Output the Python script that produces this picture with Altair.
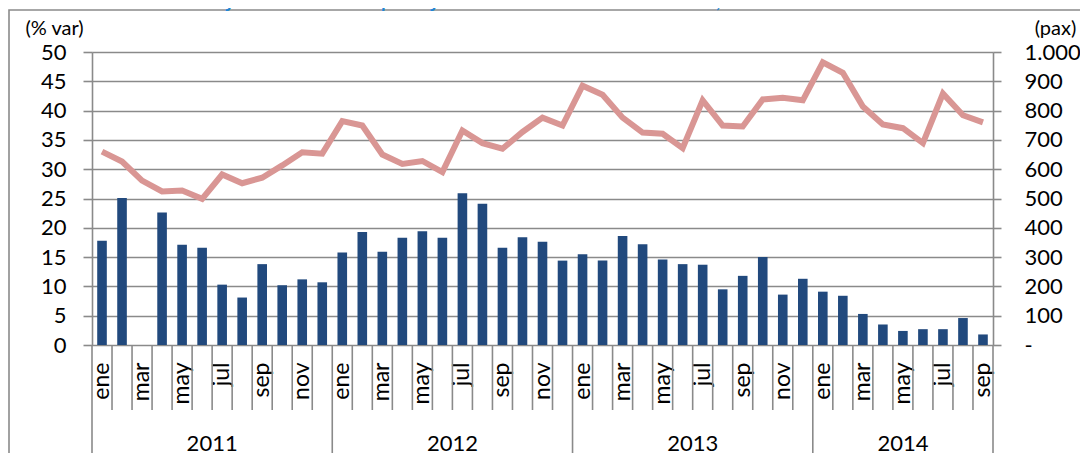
import altair as alt
import pandas as pd

months = ["ene", "feb", "mar", "abr", "may", "jun", "jul", "ago", "sep", "oct", "nov", "dic"]
years = [2011, 2012, 2013, 2014]

# % var (left axis, bars)
pct_2011 = [17.8, 25.1, None, 22.6, 17.1, 16.6, 10.3, 8.1, 13.8, 10.2, 11.2, 10.7]
pct_2012 = [15.8, 19.3, 15.9, 18.3, 19.4, 18.3, 25.9, 24.1, 16.6, 18.4, 17.6, 14.4]
pct_2013 = [15.5, 14.4, 18.6, 17.2, 14.6, 13.8, 13.7, 9.5, 11.8, 15.0, 8.6, 11.3]
pct_2014 = [9.1, 8.4, 5.3, 3.5, 2.4, 2.7, 2.7, 4.6, 1.8]

# pax (right axis, line)
pax_2011 = [660, 626, 561, 524, 527, 499, 582, 552, 571, 613, 658, 653]
pax_2012 = [764, 749, 650, 618, 628, 590, 732, 689, 670, 727, 776, 749]
pax_2013 = [885, 854, 776, 725, 721, 672, 835, 749, 746, 838, 844, 835]
pax_2014 = [965, 929, 814, 753, 740, 689, 858, 784, 760]

left_ticks = [0, 5, 10, 15, 20, 25, 30, 35, 40, 45, 50]
right_ticks = [0, 100, 200, 300, 400, 500, 600, 700, 800, 900, 1000]

title_text = "Flujo mensual de pasajeros en vuelos domésticos, serie 2011-2014"

pct_all = pct_2011 + pct_2012 + pct_2013 + pct_2014
pax_all = pax_2011 + pax_2012 + pax_2013 + pax_2014
rows = []
for i, (p, q) in enumerate(zip(pct_all, pax_all)):
    rows.append({"i": i, "mes": months[i % 12], "anio": years[i // 12], "pct": p, "pax": q})
df = pd.DataFrame(rows)
n = len(df)

year_start = [i for i in range(n) if i % 12 == 0]
month_bounds = [i for i in range(1, n) if i % 12 != 0]
full_years = pd.DataFrame({"anio": [str(y) for y in years[:3]], "i": [y * 12 + 6 for y in range(3)]})
last_year = pd.DataFrame({"anio": [str(years[3])], "i": [36 + 4]})

W, H = 901, 293
FONT = "Lato"
GRID = "#8a8a8a"
BAR = "#21497D"
LINE = "#D99694"

xscale = alt.Scale(domain=list(range(n)), paddingInner=0, paddingOuter=0)
month_expr = "datum.value % 2 == 0 ? " + str(months) + "[datum.value % 12] : ''"

bars = alt.Chart(df).mark_bar(color=BAR, width=alt.RelativeBandSize(0.48)).encode(
    x=alt.X("i:O", scale=xscale,
            axis=alt.Axis(title=None, labelExpr=month_expr, labelAngle=-90, labelFont=FONT,
                          labelFontSize=23, labelColor="#000000", labelPadding=17,
                          ticks=False, tickSize=0, domain=False, grid=False)),
    y=alt.Y("pct:Q", scale=alt.Scale(domain=[0, 50], nice=False),
            axis=alt.Axis(values=left_ticks, title="(% var)", titleAngle=0, titleX=-38, titleY=-18,
                          titleAlign="center", titleBaseline="alphabetic", titleFont=FONT,
                          titleFontSize=20, titleFontWeight="normal", titleColor="#000000",
                          labelFont=FONT, labelFontSize=22, labelColor="#000000", labelPadding=17,
                          tickSize=9, tickColor=GRID, tickWidth=1.6, domainColor=GRID, domainWidth=1.6,
                          grid=True, gridColor=GRID, gridWidth=1.6)),
)

line = alt.Chart(df).mark_line(color=LINE, strokeWidth=6).encode(
    x=alt.X("i:O", scale=xscale),
    y=alt.Y("pax:Q", scale=alt.Scale(domain=[0, 1000], nice=False),
            axis=alt.Axis(values=right_ticks, orient="right",
                          labelExpr="datum.value == 0 ? '-' : replace(format(datum.value, ','), ',', '.')",
                          title="(pax)", titleAngle=0, titleX=62, titleY=-18, titleAlign="center",
                          titleBaseline="alphabetic", titleFont=FONT, titleFontSize=20,
                          titleFontWeight="normal", titleColor="#000000",
                          labelFont=FONT, labelFontSize=22, labelColor="#000000", labelPadding=23,
                          tickSize=8, tickColor=GRID, tickWidth=1.6, domainColor=GRID, domainWidth=1.6,
                          grid=False)),
)

month_ticks = alt.Chart(pd.DataFrame({"i": month_bounds})).mark_rule(color=GRID, strokeWidth=1.6).encode(
    x=alt.X("i:O", scale=xscale, bandPosition=0),
    y=alt.value(H), y2=alt.value(H + 65),
)
year_seps = alt.Chart(pd.DataFrame({"i": year_start})).mark_rule(color=GRID, strokeWidth=1.6).encode(
    x=alt.X("i:O", scale=xscale, bandPosition=0),
    y=alt.value(H), y2=alt.value(H + 130),
)
end_sep = alt.Chart(pd.DataFrame({"i": [n - 1]})).mark_rule(color=GRID, strokeWidth=1.6).encode(
    x=alt.X("i:O", scale=xscale, bandPosition=1),
    y=alt.value(H), y2=alt.value(H + 130),
)
year_lbl = alt.Chart(full_years).mark_text(font=FONT, fontSize=22, color="#000000", baseline="alphabetic").encode(
    x=alt.X("i:O", scale=xscale, bandPosition=0),
    y=alt.value(H + 106), text="anio:N",
)
year_lbl2 = alt.Chart(last_year).mark_text(font=FONT, fontSize=22, color="#000000", baseline="alphabetic").encode(
    x=alt.X("i:O", scale=xscale, bandPosition=0.5),
    y=alt.value(H + 106), text="anio:N",
)
frame = alt.Chart(pd.DataFrame({"t": [title_text]})).mark_rect(fill=None, stroke=GRID, strokeWidth=1.6).encode(
    x=alt.value(-83), x2=alt.value(W + 200), y=alt.value(-42), y2=alt.value(H + 200),
)
title = alt.Chart(pd.DataFrame({"t": [title_text]})).mark_text(
    font=FONT, fontSize=26, fontStyle="italic", color="#1F86D6", baseline="alphabetic", align="center"
).encode(x=alt.value(W / 2 + 12), y=alt.value(-45), text="t:N")

chart = alt.layer(
    frame, title, bars, line, month_ticks, year_seps, end_sep, year_lbl, year_lbl2
).resolve_scale(y="independent").properties(
    width=W, height=H,
    autosize=alt.AutoSizeParams(type="none"),
    padding={"left": 84, "top": 44, "right": 87, "bottom": 110},
).configure_view(stroke=None).configure(background="white")

chart.save("out.html", embed_options={"renderer": "svg", "actions": False})
